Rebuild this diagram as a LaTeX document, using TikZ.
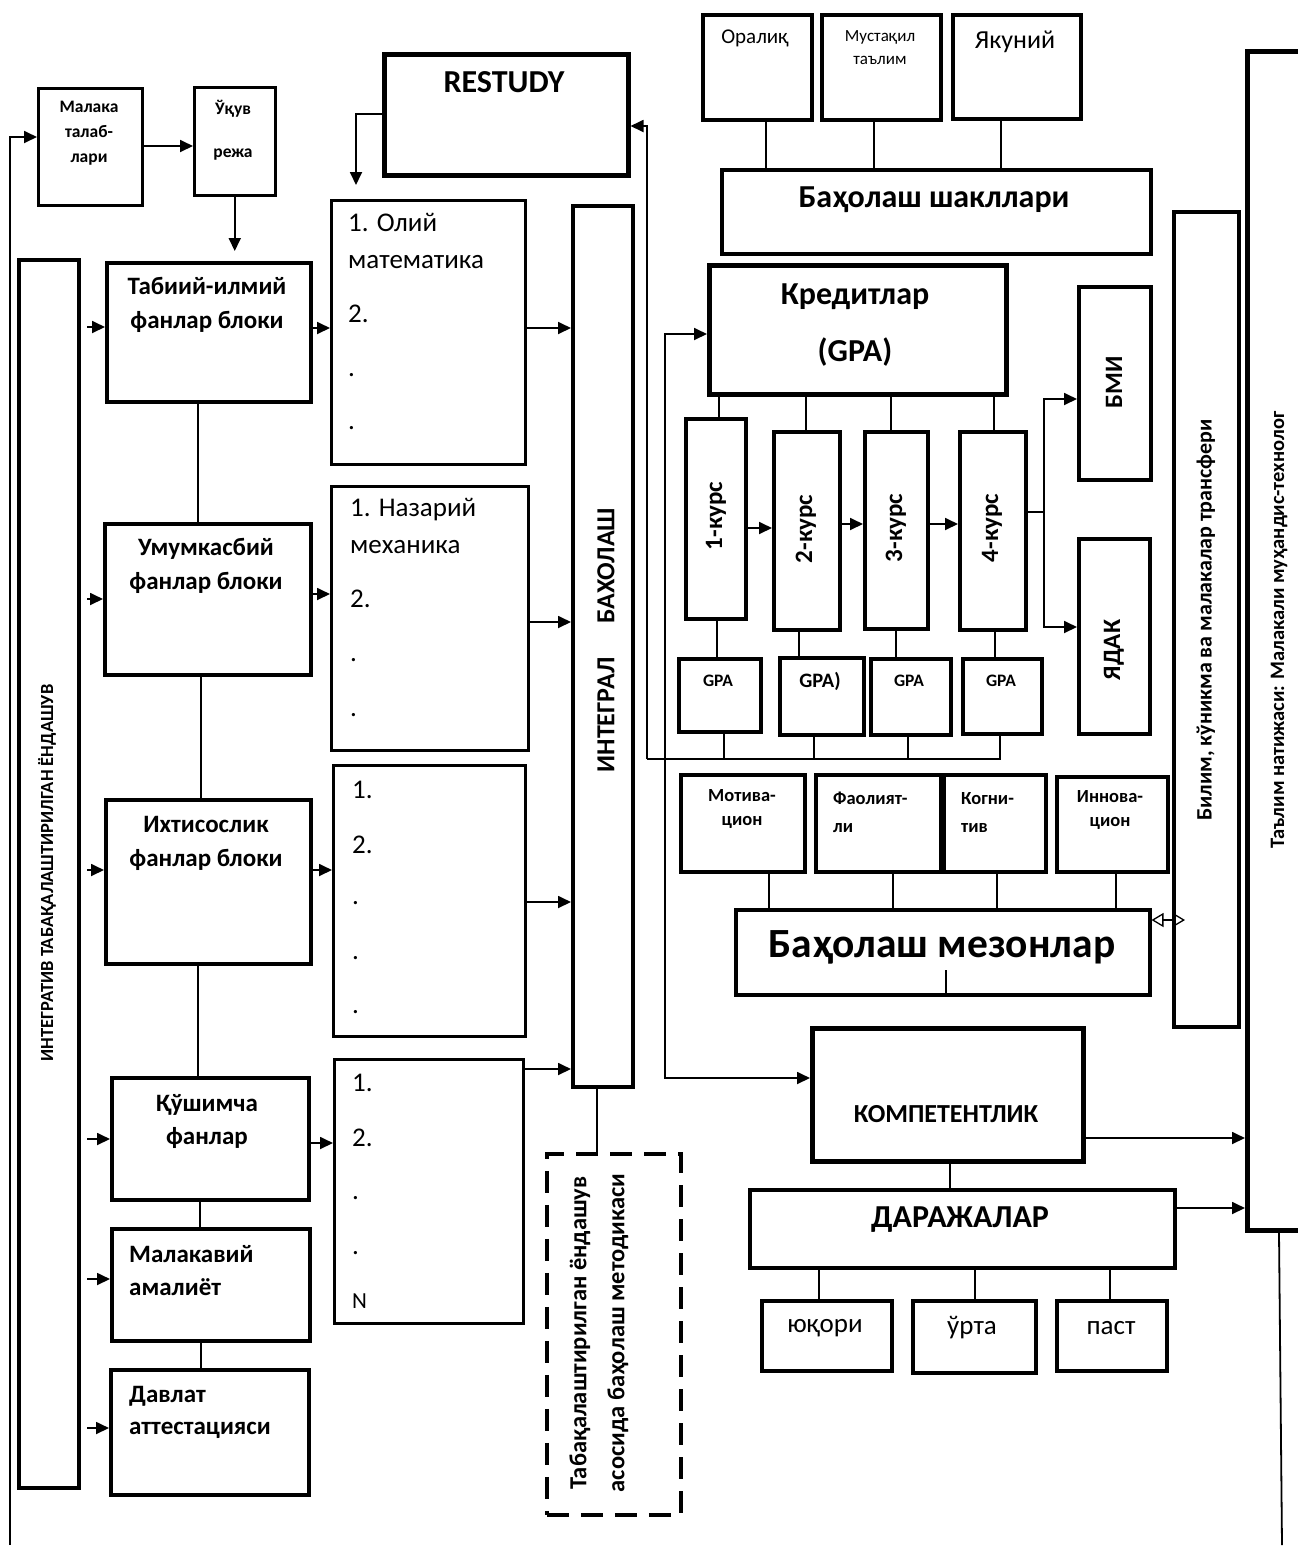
\documentclass[tikz,border=0pt]{standalone}
\usepackage{fontspec}
\setmainfont{Carlito}
\usetikzlibrary{arrows.meta}
\newcommand{\fz}[2]{\fontsize{#1}{#2}\selectfont}
\begin{document}
\begin{tikzpicture}[x=1pt,y=-1pt,
  bx/.style={draw, line width=3.5pt, inner sep=0pt, anchor=north west},
  ln/.style={line width=1.8pt},
  arr/.style={ln, -{Triangle[length=13pt,width=12pt]}},
  tb/.style={inner sep=0pt, align=center},
  lt/.style={anchor=west, inner sep=0pt, text height=0.65em, text depth=0pt, font=\fz{27}{30}},
  bf17/.style={font=\bfseries\fz{17.5}{25}},
  bf24/.style={font=\bfseries\fz{25}{34}}]
\useasboundingbox (0,0) rectangle (1298,1551);

% ---------- top left ----------
\node[bx, line width=2.5pt, minimum width=104, minimum height=117] (malaka) at (37,87) {};
\node[tb, bf17] (malakaT) at (89,133) {Малака\\талаб-\\лари};
\node[bx, line width=2.5pt, minimum width=81, minimum height=108] (ukuv) at (193,86) {};
\node[tb, font=\bfseries\fz{17.5}{43}] (ukuvT) at (233,130) {Ўқув\\режа};
\node[bx, line width=4.5pt, minimum width=244, minimum height=121] (restudy) at (382,52) {};
\node[tb, font=\bfseries\fz{32}{36}] (restudyT) at (504,82) {RESTUDY};

% ---------- left column ----------
\node[bx, line width=4pt, minimum width=60, minimum height=1228] (leftV) at (17,258) {};
\node[tb, rotate=90, font=\bfseries\fz{18.5}{20}] (leftVT) at (47,873) {ИНТЕГРАТИВ ТАБАҚАЛАШТИРИЛГАН ЁНДАШУВ};

\node[bx, minimum width=204, minimum height=139] (tab) at (105,261) {};
\node[tb, bf24] (tabT) at (207,305) {Табиий-илмий\\фанлар блоки};
\node[bx, minimum width=206, minimum height=151] (umum) at (103,522) {};
\node[tb, bf24] (umumT) at (206,566) {Умумкасбий\\фанлар блоки};
\node[bx, minimum width=205, minimum height=164] (ihtis) at (104,798) {};
\node[tb, bf24] (ihtisT) at (206,843) {Ихтисослик\\фанлар блоки};
\node[bx, minimum width=197, minimum height=122] (kush) at (110,1076) {};
\node[tb, font=\bfseries\fz{25}{33}] (kushT) at (207,1121) {Қўшимча\\фанлар};
\node[bx, minimum width=198, minimum height=112] (malv) at (110,1227) {};
\node[tb, anchor=west, align=left, font=\bfseries\fz{25}{33}] (malvT) at (129,1271) {Малакавий\\амалиёт};
\node[bx, minimum width=198, minimum height=125] (davlat) at (109,1368) {};
\node[tb, anchor=west, align=left, font=\bfseries\fz{25}{32}] (davlatT) at (129,1412) {Давлат\\аттестацияси};

% ---------- subject lists ----------
\node[bx, line width=3pt, minimum width=194, minimum height=264] (math) at (330,199) {};
\node[lt] (m1) at (348,228) {1. Олий};
\node[lt] (m2) at (348,265) {математика};
\node[lt] (m3) at (348,319) {2.};
\node[lt] (m4) at (348,373) {.};
\node[lt] (m5) at (348,426) {.};

\node[bx, line width=3pt, minimum width=197, minimum height=264] (naz) at (330,485) {};
\node[lt] (n1) at (350,513) {1. Назарий};
\node[lt] (n2) at (350,550) {механика};
\node[lt] (n3) at (350,604) {2.};
\node[lt] (n4) at (350,658) {.};
\node[lt] (n5) at (350,713) {.};

\node[bx, line width=3pt, minimum width=192, minimum height=271] (b3) at (332,764) {};
\node[lt] (c1) at (352,795) {1.};
\node[lt] (c2) at (352,850) {2.};
\node[lt] (c3) at (352,901) {.};
\node[lt] (c4) at (352,956) {.};
\node[lt] (c5) at (352,1010) {.};

\node[bx, line width=3pt, minimum width=189, minimum height=264] (b4) at (333,1058) {};
\node[lt] (d1) at (352,1088) {1.};
\node[lt] (d2) at (352,1143) {2.};
\node[lt] (d3) at (352,1196) {.};
\node[lt] (d4) at (352,1251) {.};
\node[lt, font=\fz{23}{26}] (d5) at (352,1305) {N};

% ---------- integral ----------
\node[bx, line width=4pt, minimum width=60, minimum height=881] (integ) at (571,204) {};
\node[tb, rotate=90, font=\bfseries\fz{26}{28}] (integT) at (606,640) {ИНТЕГРАЛ\hspace{34pt}БАХОЛАШ};

\node[bx, dash pattern=on 22pt off 12pt, line width=3.5pt, minimum width=134, minimum height=361] (dash) at (545,1152) {};
\node[tb, rotate=90, font=\bfseries\fz{24.5}{38}] (dashT) at (599,1333) {Табақалаштирилган ёндашув\\асосида баҳолаш методикаси};

% ---------- top right ----------
\node[bx, minimum width=109, minimum height=105] (oral) at (701,13) {};
\node[tb, font=\fz{21}{24}] (oralT) at (755,38) {Оралиқ};
\node[bx, minimum width=119, minimum height=105] (must) at (820,13) {};
\node[tb, font=\fz{17}{23}] (mustT) at (880,48) {Мустақил\\таълим};
\node[bx, minimum width=128, minimum height=104] (yak) at (951,13) {};
\node[tb, font=\fz{26}{28}] (yakT) at (1015,42) {Якуний};
\node[bx, minimum width=429, minimum height=84] (shakl) at (720,168) {};
\node[tb, font=\bfseries\fz{32}{36}] (shaklT) at (934,200) {Баҳолаш шакллари};

\node[bx, line width=4.5pt, minimum width=297, minimum height=129] (kred) at (707,263) {};
\node[tb, font=\bfseries\fz{32}{57}] (kredT) at (855,325) {Кредитлар\\(GPA)};

\node[bx, minimum width=60, minimum height=200] (kurs1) at (684,417) {};
\node[tb, rotate=90, font=\bfseries\fz{25}{28}] (kurs1T) at (716,516) {1-курс};
\node[bx, minimum width=66, minimum height=198] (kurs2) at (772,430) {};
\node[tb, rotate=90, font=\bfseries\fz{25}{28}] (kurs2T) at (806,529) {2-курс};
\node[bx, minimum width=63, minimum height=197] (kurs3) at (863,430) {};
\node[tb, rotate=90, font=\bfseries\fz{25}{28}] (kurs3T) at (896,528) {3-курс};
\node[bx, minimum width=66, minimum height=198] (kurs4) at (958,430) {};
\node[tb, rotate=90, font=\bfseries\fz{25}{28}] (kurs4T) at (992,528) {4-курс};

\node[bx, minimum width=72, minimum height=193] (bmi) at (1077,285) {};
\node[tb, rotate=90, font=\bfseries\fz{25}{28}] (bmiT) at (1114,382) {БМИ};
\node[bx, minimum width=71, minimum height=195] (yadak) at (1077,537) {};
\node[tb, rotate=90, font=\bfseries\fz{25}{28}] (yadakT) at (1114,650) {ЯДАК};

\node[bx, minimum width=82, minimum height=73] (g1) at (677,657) {};
\node[tb, font=\bfseries\fz{17.5}{20}] (g1T) at (718,681) {GPA};
\node[bx, minimum width=84, minimum height=77] (g2) at (778,656) {};
\node[tb, font=\bfseries\fz{20.5}{24}] (g2T) at (820,681) {GPA)};
\node[bx, minimum width=80, minimum height=76] (g3) at (869,657) {};
\node[tb, font=\bfseries\fz{17.5}{20}] (g3T) at (909,681) {GPA};
\node[bx, minimum width=79, minimum height=75] (g4) at (961,657) {};
\node[tb, font=\bfseries\fz{17.5}{20}] (g4T) at (1001,681) {GPA};

\node[bx, minimum width=124, minimum height=97] (mo1) at (679,773) {};
\node[tb, font=\bfseries\fz{18.5}{24}] (mo1T) at (742,809) {Мотива-\\цион};
\node[bx, minimum width=125, minimum height=97] (mo2) at (814,773) {};
\node[tb, anchor=west, align=left, font=\bfseries\fz{18.5}{28}] (mo2T) at (833,812) {Фаолият-\\ли};
\node[bx, minimum width=102, minimum height=97] (mo3) at (942,773) {};
\node[tb, anchor=west, align=left, font=\bfseries\fz{18.5}{28}] (mo3T) at (961,812) {Когни-\\тив};
\node[bx, minimum width=111, minimum height=95] (mo4) at (1055,775) {};
\node[tb, font=\bfseries\fz{18.5}{24}] (mo4T) at (1110,810) {Иннова-\\цион};

\node[bx, minimum width=414, minimum height=85] (mezon) at (734,908) {};
\node[tb, font=\bfseries\fz{41.5}{46}] (mezonT) at (942,947) {Баҳолаш мезонлар};

\node[bx, minimum width=65, minimum height=815] (bilim) at (1172,210) {};
\node[tb, rotate=90, font=\bfseries\fz{22}{24}] (bilimT) at (1206,620) {Билим, кўникма ва малакалар трансфери};

\node[bx, line width=4.5pt, minimum width=80, minimum height=1179] (bigR) at (1245,49) {};
\node[tb, rotate=90, font=\bfseries\fz{20.5}{22}] (bigRT) at (1279,630) {Таълим натижаси: Малакали муҳандис-технолог};

\node[bx, line width=4.5pt, minimum width=271, minimum height=133] (komp) at (810,1026) {};
\node[tb, font=\bfseries\fz{26}{28}] (kompT) at (946,1114) {КОМПЕТЕНТЛИК};
\node[bx, minimum width=425, minimum height=78] (daraj) at (748,1188) {};
\node[tb, font=\bfseries\fz{32}{36}] (darajT) at (960,1220) {ДАРАЖАЛАР};
\node[bx, minimum width=130, minimum height=70] (yuk) at (760,1299) {};
\node[tb, font=\fz{27}{28}] (yukT) at (825,1328) {юқори};
\node[bx, minimum width=123, minimum height=72] (urta) at (911,1299) {};
\node[tb, font=\fz{27}{28}] (urtaT) at (972,1328) {ўрта};
\node[bx, minimum width=110, minimum height=70] (past) at (1055,1299) {};
\node[tb, font=\fz{27}{28}] (pastT) at (1111,1328) {паст};

% ---------- coordinates for free ends / corners ----------
\coordinate (lstart) at (10,1545);
\coordinate (jn) at (1044,512);
\coordinate (busL) at (647,759);
\coordinate (cK) at (665,1078);
\coordinate (dA) at ([xshift=13pt]bilim.west);
\coordinate (bEnd) at (1282,1545);

% ---------- connectors ----------
\draw[arr] (lstart) |- (malaka.west |- 0,137);
\draw[arr] (malaka.east |- 0,146) -- (ukuv.west |- 0,146);
\draw[arr, shorten >=10pt] (ukuv.south) -- (ukuv.south |- tab.north);
\draw[arr, shorten >=14pt] (restudy.west |- 0,114) -| (math.north -| 356,0);

\foreach \n/\yy in {tab/327, umum/599, ihtis/870, kush/1139, malv/1279, davlat/1428}
  \draw[arr, shorten <=6pt] (leftV.east |- 0,\yy) -- (\n.west |- 0,\yy);
\foreach \a/\b/\yy in {tab/math/328, umum/naz/594, ihtis/b3/870, kush/b4/1143}
  \draw[arr] (\a.east |- 0,\yy) -- (\b.west |- 0,\yy);
\foreach \a/\yy in {math/328, naz/622, b3/902, b4/1069}
  \draw[arr] (\a.east |- 0,\yy) -- (integ.west |- 0,\yy);

\draw[ln] (tab.south -| 198,0) -- (umum.north -| 198,0);
\draw[ln] (umum.south -| 201,0) -- (ihtis.north -| 201,0);
\draw[ln] (ihtis.south -| 198,0) -- (kush.north -| 198,0);
\draw[ln] (kush.south -| 200,0) -- (malv.north -| 200,0);
\draw[ln] (malv.south -| 201,0) -- (davlat.north -| 201,0);
\draw[ln] (integ.south -| 597,0) -- (dash.north -| 597,0);

\draw[ln] (oral.south -| 766,0) -- (shakl.north -| 766,0);
\draw[ln] (must.south -| 874,0) -- (shakl.north -| 874,0);
\draw[ln] (yak.south -| 1001,0) -- (shakl.north -| 1001,0);

\draw[ln] (kred.south -| 719,0) -- (kurs1.north -| 719,0);
\draw[ln] (kred.south -| 806,0) -- (kurs2.north -| 806,0);
\draw[ln] (kred.south -| 891,0) -- (kurs3.north -| 891,0);
\draw[ln] (kred.south -| 994,0) -- (kurs4.north -| 994,0);

\draw[arr] (kurs1.east |- 0,528) -- (kurs2.west |- 0,528);
\draw[arr] (kurs2.east |- 0,524) -- (kurs3.west |- 0,524);
\draw[arr] (kurs3.east |- 0,524) -- (kurs4.west |- 0,524);
\draw[ln] (kurs4.east |- jn) -- (jn);
\draw[arr] (jn) |- (bmi.west |- 0,399);
\draw[arr] (jn) |- (yadak.west |- 0,627);

\draw[ln] (kurs1.south -| 717,0) -- (g1.north -| 717,0);
\draw[ln] (kurs2.south -| 799,0) -- (g2.north -| 799,0);
\draw[ln] (kurs3.south -| 896,0) -- (g3.north -| 896,0);
\draw[ln] (kurs4.south -| 995,0) -- (g4.north -| 995,0);

\draw[ln] (g4.south -| 1000,0) |- (busL);
\draw[ln] (g1.south -| 724,0) -- (busL -| 724,0);
\draw[ln] (g2.south -| 814,0) -- (busL -| 814,0);
\draw[ln] (g3.south -| 908,0) -- (busL -| 908,0);
\draw[arr] (busL) |- (restudy.east |- 0,126);

\draw[ln, {Triangle[length=13pt,width=12pt]}-{Triangle[length=13pt,width=12pt]}]
  (kred.west |- 0,334) -| (cK) -- (komp.west |- cK);

\draw[ln] (mo1.south -| 769,0) -- (mezon.north -| 769,0);
\draw[ln] (mo2.south -| 893,0) -- (mezon.north -| 893,0);
\draw[ln] (mo3.south -| 997,0) -- (mezon.north -| 997,0);
\draw[ln] (mo4.south -| 1116,0) -- (mezon.north -| 1116,0);
\draw[ln] (mezon.south -| 946,0) -- ++(0,-27);
\draw[line width=1.3pt, {Triangle[open,length=12pt,width=14pt]}-{Triangle[open,length=12pt,width=14pt]}]
  (mezon.east |- 0,920) -- (dA |- 0,920);

\draw[arr] (komp.east |- 0,1138) -- (bigR.west |- 0,1138);
\draw[ln] (komp.south -| 950,0) -- (daraj.north -| 950,0);
\draw[arr] (daraj.east |- 0,1208) -- (bigR.west |- 0,1208);
\draw[ln] (daraj.south -| 819,0) -- (yuk.north -| 819,0);
\draw[ln] (daraj.south -| 975,0) -- (urta.north -| 975,0);
\draw[ln] (daraj.south -| 1110,0) -- (past.north -| 1110,0);
\draw[ln] (bigR.south -| 1279,0) -- (bEnd);
\end{tikzpicture}
\end{document}
